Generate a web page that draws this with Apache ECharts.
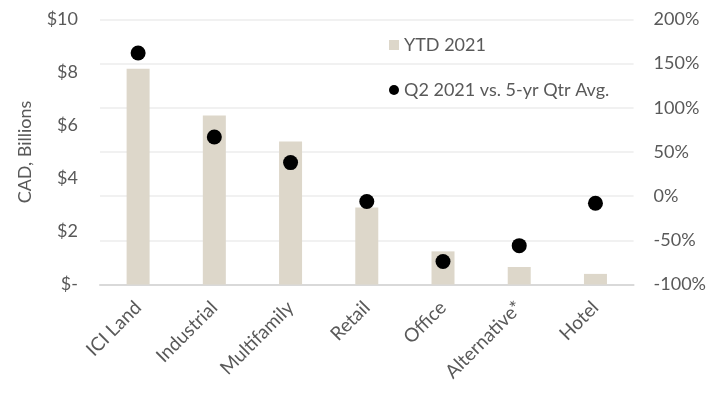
<!DOCTYPE html>
<html>
<head>
<meta charset="utf-8">
<script src="https://cdn.jsdelivr.net/npm/echarts@6/dist/echarts.min.js"></script>
<style>
  html, body { margin: 0; padding: 0; background: #ffffff; }
  #chart { width: 709px; height: 402px; }
</style>
</head>
<body>
<div id="chart"></div>
<script>
// Investment volume by property type
const categories = ['ICI Land', 'Industrial', 'Multifamily', 'Retail', 'Office', 'Alternative*', 'Hotel'];
const ytd2021 = [8.14, 6.38, 5.40, 2.91, 1.25, 0.66, 0.40];            // CAD billions
const q2VsAvg = [162, 67, 38, -6, -74, -56, -8];                    // percent
const leftTicks = { min: 0, max: 10, step: 2 };
const rightTicks = { min: -100, max: 200, step: 50 };

const textColor = '#595959';
const fontFamily = 'Lato, "Noto Sans", sans-serif';

const chart = echarts.init(document.getElementById('chart'));
chart.setOption({
  animation: false,
  textStyle: { fontFamily: fontFamily, color: textColor },
  grid: { left: 100, right: 74, top: 19.5, bottom: 117.5 },
  legend: {
    orient: 'vertical',
    left: 384,
    top: 31,
    itemWidth: 10,
    itemHeight: 10,
    itemGap: 27,
    textStyle: { fontSize: 18, color: textColor, fontFamily: fontFamily },
    data: [
      { name: 'YTD 2021', icon: 'rect' },
      { name: 'Q2 2021 vs. 5-yr Qtr Avg.', icon: 'circle' }
    ]
  },
  xAxis: {
    type: 'category',
    data: categories,
    axisLine: { lineStyle: { color: '#d9d9d9', width: 2 } },
    axisTick: { show: false },
    axisLabel: { rotate: 45, fontSize: 19, color: textColor, margin: 20, interval: 0 }
  },
  yAxis: [
    {
      type: 'value',
      min: leftTicks.min, max: leftTicks.max, interval: leftTicks.step,
      name: 'CAD, Billions',
      nameLocation: 'middle',
      nameGap: 66,
      nameTextStyle: { fontSize: 18, color: textColor },
      axisLine: { show: false },
      axisTick: { show: false },
      splitLine: { show: false },
      axisLabel: {
        fontSize: 18, color: textColor, margin: 22,
        formatter: v => v === 0 ? '$-' : '$' + v
      }
    },
    {
      type: 'value',
      min: rightTicks.min, max: rightTicks.max, interval: rightTicks.step,
      axisLine: { show: false },
      axisTick: { show: false },
      splitLine: { show: true, lineStyle: { color: '#ececec', width: 1.5 } },
      axisLabel: { fontSize: 18, color: textColor, margin: 20, formatter: '{value}%' }
    }
  ],
  series: [
    {
      name: 'YTD 2021',
      type: 'bar',
      yAxisIndex: 0,
      data: ytd2021,
      barWidth: 23,
      itemStyle: { color: '#ddd7ca' }
    },
    {
      name: 'Q2 2021 vs. 5-yr Qtr Avg.',
      type: 'scatter',
      yAxisIndex: 1,
      data: q2VsAvg,
      symbol: 'circle',
      symbolSize: 15,
      itemStyle: { color: '#000000', opacity: 1 }
    }
  ]
});
</script>
</body>
</html>
